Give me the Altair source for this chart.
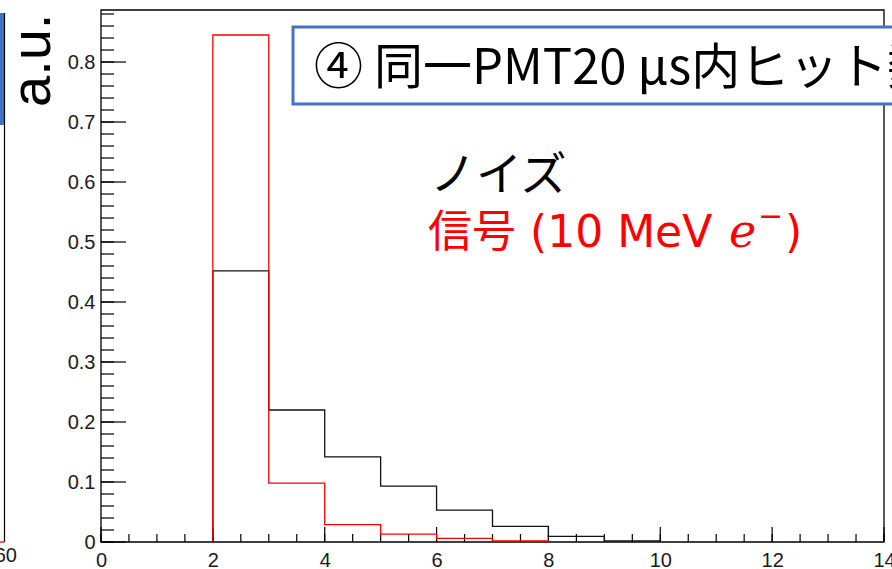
import altair as alt
import numpy as np
import pandas as pd

# ---- data ----
noise_edges = [2, 3, 4, 5, 6, 7, 8, 9, 10]
noise_vals = [0.452, 0.220, 0.142, 0.093, 0.053, 0.026, 0.0095, 0.002]
sig_edges = [2, 3, 4, 5, 6, 7, 8]
sig_vals = [0.845, 0.098, 0.029, 0.013, 0.006, 0.002]

x_major = [0, 2, 4, 6, 8, 10, 12, 14]
y_major = [0, 0.1, 0.2, 0.3, 0.4, 0.5, 0.6, 0.7, 0.8]
x_minor = [round(v, 2) for v in np.arange(0, 14.01, 0.5)]
y_minor = [round(v, 2) for v in np.arange(0, 0.881, 0.02)]

title_text = "④ 同一PMT20 μs内ヒット数"
noise_label = "ノイズ"
signal_label = "信号 (10 MeV"
au_label = "a.u."
left_tick_label = "60"

W, H = 783, 532
X0, Y0 = 101, 10


def steps(edges, vals, name):
    rows = [(edges[0], 0.0)]
    for i, v in enumerate(vals):
        rows.append((edges[i], v))
        rows.append((edges[i + 1], v))
    rows.append((edges[-1], 0.0))
    return pd.DataFrame({"x": [r[0] for r in rows], "y": [r[1] for r in rows],
                         "i": list(range(len(rows))), "series": name})


hist_df = pd.concat([steps(noise_edges, noise_vals, "noise"),
                     steps(sig_edges, sig_vals, "signal")], ignore_index=True)

xs = alt.Scale(domain=[0, 14], nice=False, zero=False)
ys = alt.Scale(domain=[0, 0.8867], nice=False, zero=False)

lab = dict(ticks=False, tickSize=0, domain=False, grid=False, title=None,
           labelFont="Liberation Sans", labelFontSize=20, labelColor="#1a1a1a",
           labelFlush=False, labelBound=False, labelOverlap=False)
xaxis = alt.Axis(values=x_major, format="d", labelPadding=8, **lab)
yaxis = alt.Axis(values=y_major, format=".1~f", labelPadding=6, **lab)

hist = alt.Chart(hist_df).mark_line(strokeWidth=1.3).encode(
    x=alt.X("x:Q", scale=xs, axis=xaxis),
    y=alt.Y("y:Q", scale=ys, axis=yaxis),
    color=alt.Color("series:N", scale=alt.Scale(domain=["noise", "signal"], range=["#111111", "#ff0000"]), legend=None),
    order="i:Q",
)

frame = alt.Chart(alt.Data(values=[{}])).mark_rect(fill=None, stroke="#000", strokeWidth=1.3).encode(
    x=alt.value(0), x2=alt.value(W), y=alt.value(0), y2=alt.value(H))

ymaj = alt.Chart(pd.DataFrame({"y": y_major})).mark_rule(color="#000", strokeWidth=1.2).encode(
    y=alt.Y("y:Q", scale=ys, axis=yaxis), x=alt.value(0), x2=alt.value(25))
ymin = alt.Chart(pd.DataFrame({"y": y_minor})).mark_rule(color="#000", strokeWidth=1.2).encode(
    y=alt.Y("y:Q", scale=ys, axis=yaxis), x=alt.value(0), x2=alt.value(13))
xmaj = alt.Chart(pd.DataFrame({"x": x_major})).mark_rule(color="#000", strokeWidth=1.2).encode(
    x=alt.X("x:Q", scale=xs, axis=xaxis), y=alt.value(H), y2=alt.value(H - 15))
xmin = alt.Chart(pd.DataFrame({"x": x_minor})).mark_rule(color="#000", strokeWidth=1.2).encode(
    x=alt.X("x:Q", scale=xs, axis=xaxis), y=alt.value(H), y2=alt.value(H - 8))

one = alt.Data(values=[{}])

box = alt.Chart(one).mark_rect(fill="white", stroke="#4472C4", strokeWidth=3).encode(
    x=alt.value(293 - X0), x2=alt.value(905 - X0), y=alt.value(27 - Y0), y2=alt.value(104 - Y0))
title = alt.Chart(one).mark_text(text=title_text, font="Noto Sans CJK JP", fontSize=49,
                                 align="left", baseline="alphabetic", color="#000").encode(
    x=alt.value(314 - X0), y=alt.value(84 - Y0))

noise_t = alt.Chart(one).mark_text(text=noise_label, font="Noto Sans CJK JP", fontSize=46,
                                   align="left", baseline="alphabetic", color="#000").encode(
    x=alt.value(430 - X0), y=alt.value(190 - Y0))
sig_t = alt.Chart(one).mark_text(text=signal_label, font="DejaVu Sans, Noto Sans CJK JP", fontSize=44,
                                 align="left", baseline="alphabetic", color="#ff0000").encode(
    x=alt.value(428 - X0), y=alt.value(247 - Y0))
sig_e = alt.Chart(one).mark_text(text="e", font="DejaVu Serif", fontStyle="italic", fontSize=46,
                                 align="left", baseline="alphabetic", color="#ff0000").encode(
    x=alt.value(729 - X0), y=alt.value(247 - Y0))
sig_m = alt.Chart(one).mark_text(text="−", font="DejaVu Sans", fontSize=30,
                                 align="left", baseline="alphabetic", color="#ff0000").encode(
    x=alt.value(758 - X0), y=alt.value(226 - Y0))
sig_p = alt.Chart(one).mark_text(text=")", font="DejaVu Sans", fontSize=44,
                                 align="left", baseline="alphabetic", color="#ff0000").encode(
    x=alt.value(785 - X0), y=alt.value(247 - Y0))

# left-side remnants of the neighbouring slide elements
blue_band = alt.Chart(one).mark_rect(fill="#4472C4").encode(
    x=alt.value(0 - X0), x2=alt.value(4 - X0), y=alt.value(13 - Y0), y2=alt.value(125 - Y0))
left_line = alt.Chart(one).mark_rule(color="#000", strokeWidth=1.2).encode(
    x=alt.value(4.5 - X0), y=alt.value(13 - Y0), y2=alt.value(542 - Y0))
left_red = alt.Chart(one).mark_rule(color="#ff0000", strokeWidth=1.3).encode(
    x=alt.value(0 - X0), x2=alt.value(4.5 - X0), y=alt.value(542 - Y0))
left_lab = alt.Chart(one).mark_text(text=left_tick_label, font="Liberation Sans", fontSize=20,
                                    align="right", baseline="alphabetic", color="#1a1a1a").encode(
    x=alt.value(17 - X0), y=alt.value(562 - Y0))
au = alt.Chart(one).mark_text(text=au_label, font="Liberation Sans", fontSize=56, angle=270,
                              align="left", baseline="alphabetic", color="#000").encode(
    x=alt.value(50 - X0), y=alt.value(107 - Y0))

chart = alt.layer(
    frame, ymin, ymaj, xmin, xmaj, hist,
    box, title, noise_t, sig_t, sig_e, sig_m, sig_p,
    blue_band, left_line, left_red, left_lab, au,
).properties(
    width=W, height=H,
    autosize=alt.AutoSizeParams(type="none"),
    padding={"left": X0, "top": Y0, "right": 892 - X0 - W, "bottom": 569 - Y0 - H},
    background="white",
).configure_view(stroke=None).configure_axis(
    labelFont="Liberation Sans", labelFontSize=20, labelColor="#1a1a1a"
)

chart.save("out.html", embed_options={"renderer": "svg", "actions": False})
